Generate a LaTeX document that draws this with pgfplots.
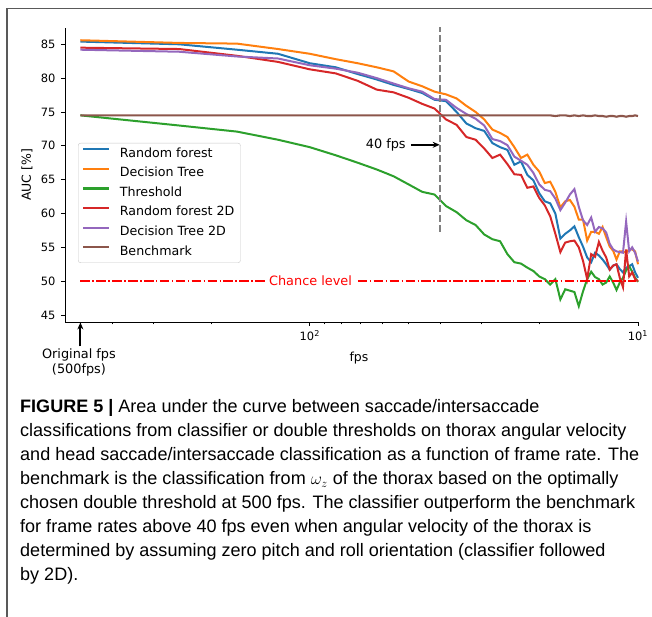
\documentclass[border=0pt]{standalone}
\usepackage{fontspec}
\setmainfont{DejaVu Sans}
\newfontfamily\capfont{Liberation Sans}
\usepackage{pgfplots}
\usepackage{pgfplotstable}
\pgfplotsset{compat=1.18}
\usetikzlibrary{arrows.meta}
\definecolor{cblue}{HTML}{1F77B4}
\definecolor{corange}{HTML}{FF7F0E}
\definecolor{cgreen}{HTML}{2CA02C}
\definecolor{cred}{HTML}{D62728}
\definecolor{cpurple}{HTML}{9467BD}
\definecolor{cbrown}{HTML}{8C564B}

\pgfplotstableread{
fps rf dt th rftwo dttwo bm
500 85.4 85.6 74.5 84.5 84.2 74.5
250 85.0 85.2 73.0 84.3 83.9 74.5
166.667 84.2 85.1 72.1 83.3 83.2 74.5
125 83.6 84.3 70.9 82.4 82.9 74.5
100 82.2 83.6 69.8 81.3 81.9 74.5
83.333 81.6 82.8 68.6 80.7 81.4 74.5
71.429 80.6 82.2 67.5 79.6 80.8 74.5
62.5 79.8 81.6 66.5 78.3 80.0 74.5
55.556 79.0 81.0 65.5 77.9 79.2 74.5
50 78.4 79.5 64.3 77.1 78.5 74.5
45.455 77.8 78.8 63.2 76.2 78.0 74.5
41.667 76.8 78.0 62.8 75.5 76.9 74.5
38.462 76.6 77.6 61.1 73.9 76.8 74.5
35.714 75.0 77.0 60.2 73.1 75.6 74.5
33.333 73.3 75.9 59.0 71.3 74.7 74.5
31.25 72.6 75.0 58.3 70.9 74.0 74.5
29.412 72.2 73.9 56.9 69.6 73.0 74.5
27.778 70.4 72.4 56.2 68.2 71.0 74.5
26.316 69.8 71.9 55.9 68.7 70.7 74.5
25 69.4 71.3 54.0 67.3 70.1 74.5
23.81 67.2 69.8 52.8 65.8 68.4 74.5
22.727 67.7 68.2 52.6 65.7 67.8 74.5
21.739 65.7 68.7 52.0 63.8 67.2 74.5
20.833 64.9 67.2 51.5 64.0 66.0 74.5
20 63.0 66.2 50.7 62.3 64.3 74.5
19.231 61.8 64.5 50.3 61.2 63.5 74.5
18.519 61.5 64.7 49.5 59.6 63.3 74.5
17.857 60.0 63.2 50.3 57.0 62.2 74.4
17.241 56.3 60.9 47.3 54.3 60.5 74.5
16.667 57.0 61.8 48.8 55.7 61.6 74.5
16.129 57.5 62.0 48.6 55.9 62.8 74.4
15.625 58.1 61.0 48.4 56.0 63.6 74.5
15.152 56.5 59.1 46.3 55.0 61.0 74.4
14.706 55.1 59.1 48.5 53.0 59.0 74.5
14.286 53.5 56.0 50.3 50.3 58.3 74.4
13.889 52.8 57.3 51.4 54.0 59.4 74.4
13.514 54.2 57.3 50.6 53.6 57.3 74.5
13.158 53.8 57.0 50.3 55.8 58.0 74.4
12.821 53.2 58.0 49.5 54.5 57.8 74.4
12.5 52.5 56.5 49.8 53.5 57.2 74.3
12.195 51.7 55.1 50.7 51.7 55.5 74.4
11.905 52.3 54.5 49.8 52.3 54.7 74.4
11.628 52.5 53.2 48.7 52.5 54.4 74.3
11.364 51.8 54.4 49.8 50.5 54.3 74.4
11.111 51.3 54.4 50.5 49.1 54.2 74.4
10.87 52.0 54.2 51.6 54.7 58.8 74.3
10.638 52.2 54.7 52.2 50.7 54.4 74.4
10.417 52.5 54.7 51.4 51.3 55.0 74.4
10.204 51.3 54.4 50.5 50.3 54.2 74.5
10 50.5 52.5 49.9 50.0 52.9 74.4
}\datatable

\begin{document}
\begin{tikzpicture}[x=1bp,y=1bp]
\path[use as bounding box] (0,0) rectangle (652,617);
\draw[line width=1.3bp, black!65] (7,0) -- (7,608.5) -- (652,608.5);
\begin{axis}[
  at={(65bp,295bp)}, anchor=south west,
  width=573bp, height=294bp, scale only axis,
  xmode=log, x dir=reverse, xmin=10, xmax=557, ymin=43.97, ymax=87.41,
  axis x line*=bottom, axis y line*=left,
  axis line style={-, line width=0.9bp, black},
  tick align=outside, major tick length=4bp, minor tick length=2.5bp,
  every tick/.style={black, line width=0.9bp},
  xtick={10,100}, xticklabels={10\textsuperscript{1},10\textsuperscript{2}},
  minor xtick={20,30,40,50,60,70,80,90,200,300,400,500},
  ytick={45,50,...,85},
  /pgf/number format/assume math mode=true,
  ticklabel style={font=\fontsize{11.5}{13}\selectfont},
  yticklabel style={xshift=-2bp},
  xticklabel style={yshift=-1bp},
  xlabel={fps}, ylabel={AUC [\%]},
  label style={font=\fontsize{12.5}{15}\selectfont},
  xlabel style={at={(axis description cs:0.513,-0.1224)}, anchor=center},
  ylabel style={at={(axis description cs:-0.0663,0.5)}, anchor=center},
  clip=false,
  legend cell align=left,
  legend image code/.code={\draw[#1, line width=2.1bp] (0bp,4.6bp) -- (26bp,4.6bp);},
  legend style={at={(axis description cs:0.0227,0.609)}, anchor=north west,
    draw=black!22, rounded corners=2.5bp, fill=white, fill opacity=0.8, text opacity=1,
    font=\fontsize{12.7}{15}\selectfont, inner xsep=4bp, inner ysep=1bp, row sep=0bp,
    nodes={inner xsep=2bp, inner ysep=3.55bp, text height=9.5bp, text depth=3bp},
    /tikz/every odd column/.append style={column sep=7.5bp}},
]
\addplot[cblue, line width=2bp] table[x=fps, y=rf] {\datatable};
\addlegendentry{Random forest}
\addplot[corange, line width=2bp] table[x=fps, y=dt] {\datatable};
\addlegendentry{Decision Tree}
\addplot[cgreen, line width=2bp] table[x=fps, y=th] {\datatable};
\addlegendentry{Threshold}
\addplot[cred, line width=2bp] table[x=fps, y=rftwo] {\datatable};
\addlegendentry{Random forest 2D}
\addplot[cpurple, line width=2bp] table[x=fps, y=dttwo] {\datatable};
\addlegendentry{Decision Tree 2D}
\addplot[cbrown, line width=2.1bp] table[x=fps, y=bm] {\datatable};
\addlegendentry{Benchmark}
% chance level
\addplot[red, line width=1.8bp, dash pattern=on 9.6bp off 2.4bp on 1.5bp off 2.4bp, forget plot] coordinates {(500,50) (137,50)};
\addplot[red, line width=1.8bp, dash pattern=on 9.6bp off 2.4bp on 1.5bp off 2.4bp, forget plot] coordinates {(71.4,50) (10.17,50)};
\node[text=red, font=\fontsize{12.9}{15}\selectfont, inner sep=0] at (axis cs:99.5,50) {Chance level};
% 40 fps marker
\addplot[black!50, line width=2bp, dash pattern=on 7bp off 3bp, forget plot] coordinates {(40,57.3) (40,87.5)};
\draw[-{Stealth[length=7bp,width=6bp]}, line width=2bp] (axis cs:49.2,70.15) -- (axis cs:40.2,70.15);
\node[anchor=east, font=\fontsize{12.9}{15}\selectfont, inner sep=1bp] at (axis cs:50.6,70.15) {40 fps};
% original fps
\draw[-{Stealth[length=7bp,width=6bp]}, line width=2bp] (axis cs:500,40.35) -- (axis cs:500,43.9);
\node[anchor=north, align=center, font=\fontsize{12.9}{15}\selectfont, inner sep=0] at (axis cs:505,40.0) {Original fps\\(500fps)};
\end{axis}
\begin{scope}[every node/.style={anchor=base west, inner sep=0, font=\capfont\fontsize{18.1}{24}\selectfont}]
\node at (20,204) {\textbf{FIGURE 5 |} Area under the curve between saccade/intersaccade};
\node at (20,180) {classifications from classifier or double thresholds on thorax angular velocity};
\node at (20,156) {and head saccade/intersaccade classification as a function of frame rate. The};
\node at (20,132) {benchmark is the classification from $\omega_z$ of the thorax based on the optimally};
\node at (20,108) {chosen double threshold at 500 fps. The classifier outperform the benchmark};
\node at (20,84) {for frame rates above 40 fps even when angular velocity of the thorax is};
\node at (20,60) {determined by assuming zero pitch and roll orientation (classifier followed};
\node at (20,36) {by 2D).};
\end{scope}
\end{tikzpicture}
\end{document}
